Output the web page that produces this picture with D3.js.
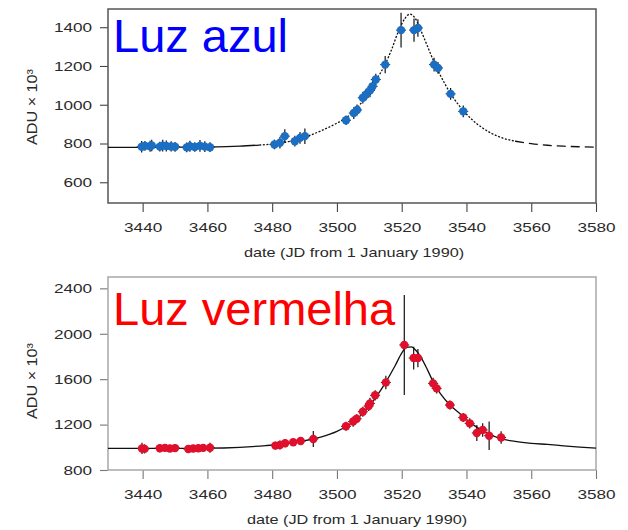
<!DOCTYPE html>
<html>
<head>
<meta charset="utf-8">
<script src="https://cdn.jsdelivr.net/npm/d3@7"></script>
<style>
  html, body { margin: 0; padding: 0; background: #ffffff; }
  svg { display: block; font-family: "Liberation Sans", Arial, sans-serif; }
</style>
</head>
<body>
<svg id="chart" width="628" height="530"></svg>
<script>
// ---------- data ----------
const xTicks = [3440, 3460, 3480, 3500, 3520, 3540, 3560, 3580];
const blueYTicks = [600, 800, 1000, 1200, 1400];
const redYTicks = [800, 1200, 1600, 2000, 2400];

const blueTitle = "Luz azul";
const redTitle = "Luz vermelha";
const xTitle = "date (JD from 1 January 1990)";
const yTitle = "ADU × 10³";

// blue (top) observations
const blueDates = [3439.7, 3440.7, 3442.3, 3442.8, 3445.3, 3446.2, 3447.3, 3448.8, 3450.0,
  3453.6, 3454.6, 3456.1, 3457.7, 3459.2, 3460.8,
  3480.7, 3482.4, 3483.9, 3487.0, 3488.6, 3490.1,
  3502.8, 3505.2, 3506.2, 3508.0, 3509.0, 3510.2, 3511.0, 3512.0, 3514.9,
  3519.8, 3523.8, 3525.0, 3530.0, 3531.2, 3535.1, 3539.0];
const blueValues = [783, 788, 786, 790, 784, 789, 787, 785, 783,
  780, 786, 782, 788, 784, 781,
  795, 804, 838, 812, 829, 838,
  920, 957, 973, 1036, 1053, 1074, 1095, 1130, 1207,
  1385, 1385, 1396, 1207, 1190, 1056, 966];
const blueErrors = [30, 25, 28, 30, 25, 30, 28, 26, 25,
  25, 28, 25, 30, 28, 25,
  25, 30, 35, 28, 30, 40,
  25, 30, 28, 30, 30, 35, 30, 30, 45,
  90, 60, 45, 35, 30, 30, 30];

// red (bottom) observations
const redDates = [3439.8, 3440.6, 3445.3, 3446.9, 3448.4, 3450.0, 3454.1, 3455.6, 3457.2, 3458.7, 3460.8,
  3481.0, 3482.4, 3484.0, 3486.5, 3488.8, 3492.7,
  3502.8, 3505.0, 3506.1, 3508.0, 3509.8, 3510.2, 3511.8, 3515.1,
  3520.8, 3523.7, 3525.0, 3529.7, 3530.8, 3534.9, 3539.0, 3541.0, 3543.2, 3545.0, 3547.0, 3550.7];
const redValues = [990, 986, 992, 995, 990, 993, 985, 989, 992, 995, 996,
  1015, 1020, 1035, 1044, 1055, 1073,
  1185, 1227, 1251, 1313, 1364, 1387, 1458, 1571,
  1901, 1786, 1786, 1563, 1519, 1372, 1262, 1211, 1126, 1152, 1102, 1086];
const redErrors = [50, 40, 35, 35, 30, 35, 35, 30, 30, 35, 45,
  35, 40, 35, 30, 35, 70,
  40, 45, 40, 45, 45, 50, 45, 60,
  440, 100, 80, 50, 45, 40, 40, 45, 70, 60, 125, 55];

// fitted light curves
const blueCurveDates = [3429.3, 3440, 3450, 3460, 3470, 3476, 3480, 3485, 3490, 3495, 3500, 3503, 3506, 3509,
  3512, 3515, 3517, 3519, 3521, 3522.5, 3524, 3526, 3528, 3530, 3532, 3535, 3538, 3541, 3545,
  3550, 3555, 3560, 3565, 3570, 3575, 3580];
const blueCurveValues = [780, 780, 781, 782, 786, 792, 797, 810, 832, 865, 905, 935, 978, 1045,
  1125, 1212, 1290, 1380, 1445, 1468, 1450, 1380, 1300, 1220, 1150, 1060, 990, 935, 880,
  835, 812, 799, 791, 786, 783, 781];

const redCurveDates = [3429.3, 3440, 3450, 3460, 3470, 3478, 3485, 3490, 3495, 3500, 3503, 3506, 3509,
  3512, 3515, 3518, 3520, 3521.5, 3523, 3524.5, 3526, 3528, 3530, 3532, 3535, 3538, 3540, 3543,
  3546, 3550, 3555, 3560, 3565, 3570, 3575, 3580];
const redCurveValues = [990, 990, 991, 992, 1000, 1015, 1035, 1058, 1090, 1140, 1185, 1245, 1330,
  1440, 1570, 1720, 1830, 1880, 1885, 1850, 1790, 1680, 1560, 1470, 1370, 1295, 1245, 1180,
  1130, 1080, 1052, 1035, 1025, 1013, 1002, 992];

// ---------- drawing ----------
const svg = d3.select("#chart");
const X_STRETCH = 1.27;

function panel(cfg) {
  const x = d3.scaleLinear().domain([3429.3, 3580]).range([108, 596]);
  const y = d3.scaleLinear().domain(cfg.yDomain).range([cfg.bottom, cfg.top]);
  const g = svg.append("g");

  const clipId = "clip-" + cfg.key;
  svg.append("clipPath").attr("id", clipId)
    .append("rect").attr("x", 108).attr("y", cfg.top)
    .attr("width", 596 - 108).attr("height", cfg.bottom - cfg.top);

  // axes
  const xAxis = d3.axisBottom(x).tickValues(xTicks).tickFormat(d3.format("d"))
    .tickSizeInner(9).tickSizeOuter(0).tickPadding(10);
  const gx = g.append("g").attr("transform", `translate(0,${cfg.bottom})`).call(xAxis);
  gx.select(".domain").remove();
  gx.selectAll("line").attr("stroke", cfg.axisColor).attr("stroke-width", 1.1);
  gx.selectAll("text").attr("fill", "#2a2a2a").attr("font-size", 13.5)
    .attr("font-family", "Liberation Sans, Arial, sans-serif")
    .attr("transform", `scale(${X_STRETCH},1)`);

  const yAxis = d3.axisLeft(y).tickValues(cfg.yTicks).tickFormat(d3.format("d"))
    .tickSizeInner(8).tickSizeOuter(0).tickPadding(8);
  const gy = g.append("g").attr("transform", "translate(108,0)").call(yAxis);
  gy.select(".domain").remove();
  gy.selectAll("line").attr("stroke", cfg.axisColor).attr("stroke-width", 1.1);
  gy.selectAll("text").attr("fill", "#2a2a2a").attr("font-size", 13.5)
    .attr("font-family", "Liberation Sans, Arial, sans-serif")
    .attr("x", -16 / X_STRETCH)
    .attr("transform", `scale(${X_STRETCH},1)`);

  // box
  g.append("rect").attr("x", 108).attr("y", cfg.top)
    .attr("width", 596 - 108).attr("height", cfg.bottom - cfg.top)
    .attr("fill", "none").attr("stroke", cfg.boxColor).attr("stroke-width", 1.5);

  const plot = g.append("g").attr("clip-path", `url(#${clipId})`);

  // curve
  const curve = cfg.curveDates.map((d, i) => ({ d, v: cfg.curveValues[i] }));
  const line = d3.line().x(p => x(p.d)).y(p => y(p.v)).curve(d3.curveMonotoneX);
  cfg.curveStyles.forEach(s => {
    const seg = curve.filter(p => p.d >= s.from && p.d <= s.to);
    plot.append("path").datum(seg).attr("d", line)
      .attr("fill", "none").attr("stroke", "#111").attr("stroke-width", 1.3)
      .attr("stroke-dasharray", s.dash);
  });

  const pts = cfg.dates.map((d, i) => ({ d, v: cfg.values[i], e: cfg.errors[i] }));
  // error bars
  plot.selectAll("line.err").data(pts).enter().append("line")
    .attr("x1", p => x(p.d)).attr("x2", p => x(p.d))
    .attr("y1", p => y(p.v - p.e)).attr("y2", p => y(p.v + p.e))
    .attr("stroke", "#111").attr("stroke-width", 1.2);
  plot.selectAll("line.herr").data(pts).enter().append("line")
    .attr("x1", p => x(p.d) - 5).attr("x2", p => x(p.d) + 5)
    .attr("y1", p => y(p.v)).attr("y2", p => y(p.v))
    .attr("stroke", "#222").attr("stroke-width", 1);
  // points
  plot.selectAll("circle").data(pts).enter().append("circle")
    .attr("cx", p => x(p.d)).attr("cy", p => y(p.v)).attr("r", 4.2)
    .attr("fill", cfg.color);

  // panel title
  g.append("text").attr("x", 113).attr("y", cfg.titleY)
    .attr("font-size", 47).attr("fill", cfg.titleColor)
    .text(cfg.title);

  // axis titles
  g.append("text").attr("transform", `translate(${cfg.xTitleX},${cfg.xTitleY}) scale(1.25,1)`)
    .attr("text-anchor", "middle").attr("font-size", 13).attr("fill", "#2a2a2a")
    .text(xTitle);
  g.append("text").attr("transform", `translate(37,${cfg.yTitleY}) rotate(-90)`)
    .attr("text-anchor", "middle").attr("font-size", 14).attr("fill", "#2a2a2a")
    .attr("textLength", 76).attr("lengthAdjust", "spacingAndGlyphs")
    .text(yTitle);
}

panel({
  key: "blue", top: 9, bottom: 203, yDomain: [493, 1494], yTicks: blueYTicks,
  dates: blueDates, values: blueValues, errors: blueErrors,
  curveDates: blueCurveDates, curveValues: blueCurveValues,
  curveStyles: [
    { from: 3429, to: 3476, dash: null },
    { from: 3476, to: 3556, dash: "2,1.6" },
    { from: 3555, to: 3581, dash: "9,5" }
  ],
  color: "#1a6fc4", axisColor: "#444", boxColor: "#555",
  title: blueTitle, titleColor: "#0000ff", titleY: 52,
  xTitleX: 354, xTitleY: 257, yTitleY: 107
});

panel({
  key: "red", top: 277, bottom: 470, yDomain: [800, 2500], yTicks: redYTicks,
  dates: redDates, values: redValues, errors: redErrors,
  curveDates: redCurveDates, curveValues: redCurveValues,
  curveStyles: [{ from: 3429, to: 3581, dash: null }],
  color: "#e0102c", axisColor: "#777", boxColor: "#a8a8a8",
  title: redTitle, titleColor: "#ff0000", titleY: 325,
  xTitleX: 357, xTitleY: 524, yTitleY: 381
});
</script>
</body>
</html>
